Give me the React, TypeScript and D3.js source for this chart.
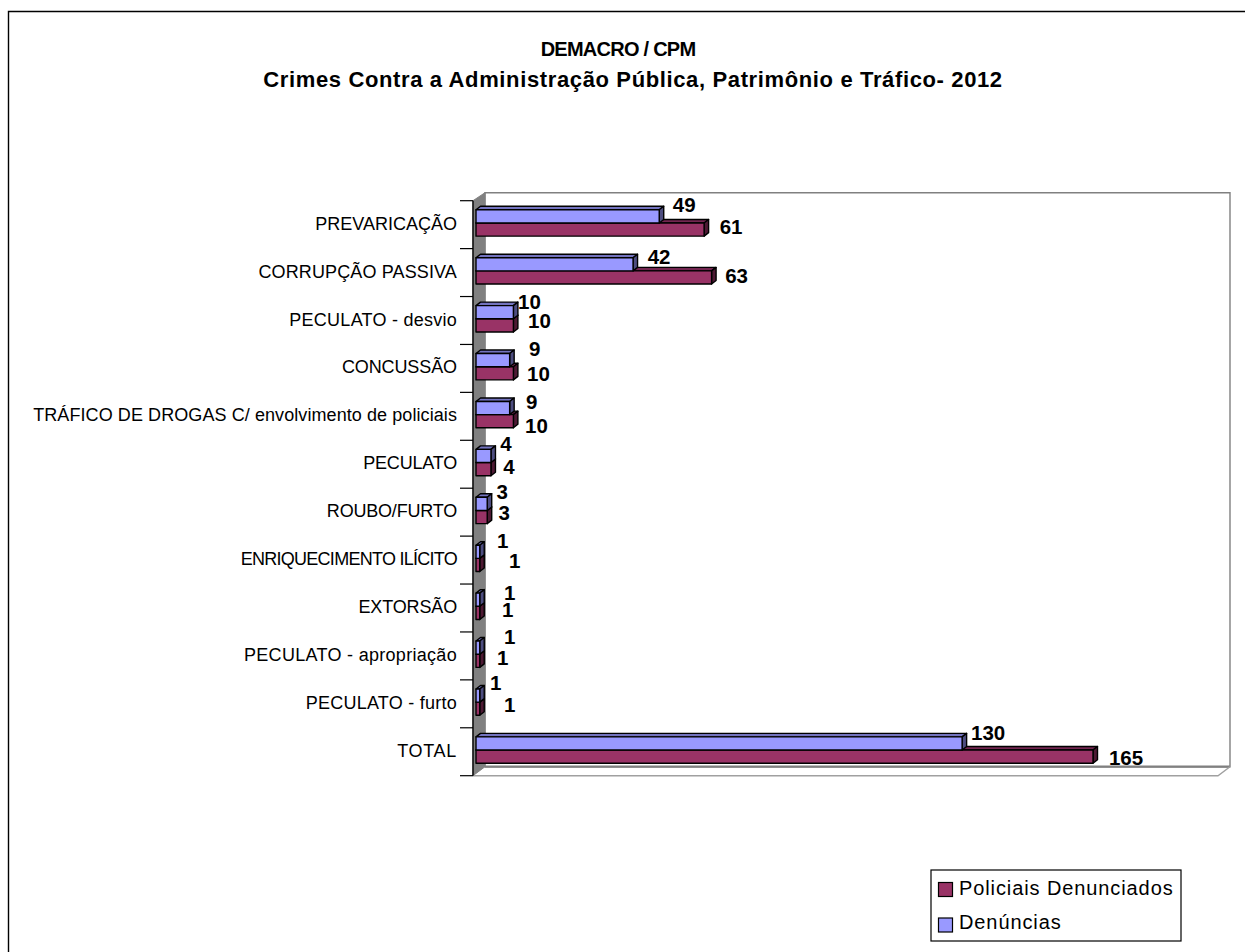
import React from "react";
import * as d3 from "d3";

const categories = ["PREVARICAÇÃO","CORRUPÇÃO PASSIVA","PECULATO - desvio","CONCUSSÃO","TRÁFICO DE DROGAS C/ envolvimento de policiais","PECULATO","ROUBO/FURTO","ENRIQUECIMENTO ILÍCITO","EXTORSÃO","PECULATO - apropriação","PECULATO - furto","TOTAL"];
const denuncias = [49,42,10,9,9,4,3,1,1,1,1,130];
const policiais = [61,63,10,10,10,4,3,1,1,1,1,165];
const titleLines = ["DEMACRO / CPM","Crimes Contra a Administração Pública, Patrimônio e Tráfico- 2012"];
const legendLabels = ["Policiais Denunciados","Denúncias"];
// manual label nudges (px) relative to each bar end, as placed in the source chart
const nudgeD: [number,number][] = [[25,-11],[26,-7],[16,-10],[25,-11],[22,-6],[15,-12],[15,-12],[23,-11],[30,-7],[30,-11],[16,-13],[26,-10]];
const nudgeP: [number,number][] = [[27,-3],[25,-1],[26,-4],[25,1],[23,5],[18,-2],[17,-4],[35,-4],[28,-3],[23,-3],[30,-4],[33,1]];
// per-label tracking to follow the source's uneven text fitting
const labelTracking = [0,0.13,0.25,-0.1,0.08,-0.2,-0.2,-0.73,-0.15,0.3,0.25,0.7];

const W = 1245, H = 952;
const FONT = "'Liberation Sans', Arial, sans-serif";
const plot = { x0: 473, x1: 1218, y0: 200.7, y1: 775.7, dx: 12, dy: 9 };
const x = d3.scaleLinear().domain([0,165]).range([476,1093]);
const band = d3.scaleBand<string>().domain(categories).range([199,774]).paddingInner(0.45).paddingOuter(0.225);
const ticks = d3.scaleLinear().domain([0,12]).range([plot.y0,plot.y1]);

function Bar3D({v,y,h,front,top,side}:{v:number;y:number;h:number;front:string;top:string;side:string}) {
  const x0 = x(0), x1 = x(v), d = 4.5, e = 3.5;
  const line = d3.line();
  return <g stroke="#000" strokeWidth={1.4} strokeLinejoin="round">
    <path d={line([[x0,y],[x0+d,y-e],[x1+d,y-e],[x1,y]])+"Z"} fill={top}/>
    <path d={line([[x1,y],[x1+d,y-e],[x1+d,y+h-e],[x1,y+h]])+"Z"} fill={side}/>
    <rect x={x0} y={y} width={x1-x0} height={h} fill={front}/>
  </g>;
}

export default function App() {
  const bw = band.bandwidth()/2;
  return <svg width={W} height={H} viewBox={`0 0 ${W} ${H}`} style={{position:"absolute",left:0,top:0,background:"#fff"}} fontFamily={FONT}>
    <path d={`M8.5,${H} V11.5 H${W}`} fill="none" stroke="#000" strokeWidth={1.4}/>
    <text x={618} y={56} textAnchor="middle" fontWeight="bold" fontSize={20} letterSpacing={-0.75}>{titleLines[0]}</text>
    <text x={633} y={87} textAnchor="middle" fontWeight="bold" fontSize={22} letterSpacing={0.63}>{titleLines[1]}</text>

    {/* walls */}
    <path d={`M${plot.x0+plot.dx},${plot.y0-plot.dy+1} H1230 V${plot.y1-plot.dy} H${plot.x0+plot.dx}Z`} fill="#fff" stroke="#808080" strokeWidth={1.4}/>
    <path d={`M${plot.x0+plot.dx},${plot.y1-plot.dy} H1230`} stroke="#808080" strokeWidth={2.2}/>
    <path d={`M${plot.x0},${plot.y0} L${plot.x0+plot.dx},${plot.y0-plot.dy+1} V${plot.y1-plot.dy} L${plot.x0},${plot.y1}Z`} fill="#808080" stroke="#808080"/>
    <path d={`M${plot.x0},${plot.y1} H${plot.x1} L1230,${plot.y1-plot.dy}`} fill="none" stroke="#a0a0a0" strokeWidth={1.4}/>
    <line x1={plot.x0} x2={plot.x0} y1={plot.y0} y2={plot.y1} stroke="#000" strokeWidth={1.4}/>
    {d3.range(13).map(i=><line key={i} x1={460} x2={plot.x0} y1={ticks(i)} y2={ticks(i)} stroke="#000" strokeWidth={1.2}/>)}

    {categories.map((c,i)=>{
      const y = band(c)!;
      const py = y+bw, dy = y;
      return <g key={c}>
        <text x={457} y={ticks(i)+29} textAnchor="end" fontSize={18} letterSpacing={labelTracking[i]}>{c}</text>
        <Bar3D v={policiais[i]} y={py} h={bw} front="#993366" top="#732650" side="#4d1933"/>
        <Bar3D v={denuncias[i]} y={dy} h={bw} front="#9999FF" top="#7373BF" side="#4D4D80"/>
        <text x={x(policiais[i])+nudgeP[i][0]} y={py+bw/2+7+nudgeP[i][1]} textAnchor="middle" fontWeight="bold" fontSize={20.5}>{policiais[i]}</text>
        <text x={x(denuncias[i])+nudgeD[i][0]} y={dy+bw/2+7+nudgeD[i][1]} textAnchor="middle" fontWeight="bold" fontSize={20.5}>{denuncias[i]}</text>
      </g>;
    })}

    {/* legend */}
    <rect x={931} y={870} width={250} height={71} fill="#fff" stroke="#000" strokeWidth={1.2}/>
    {legendLabels.map((l,i)=><g key={l}>
      <rect x={938.5} y={882.5+i*35.5} width={14} height={14} fill={i===0?"#993366":"#9999FF"} stroke="#000" strokeWidth={1.2}/>
      <text x={959} y={895+i*34} fontSize={20} letterSpacing={0.9}>{l}</text>
    </g>)}
  </svg>;
}
